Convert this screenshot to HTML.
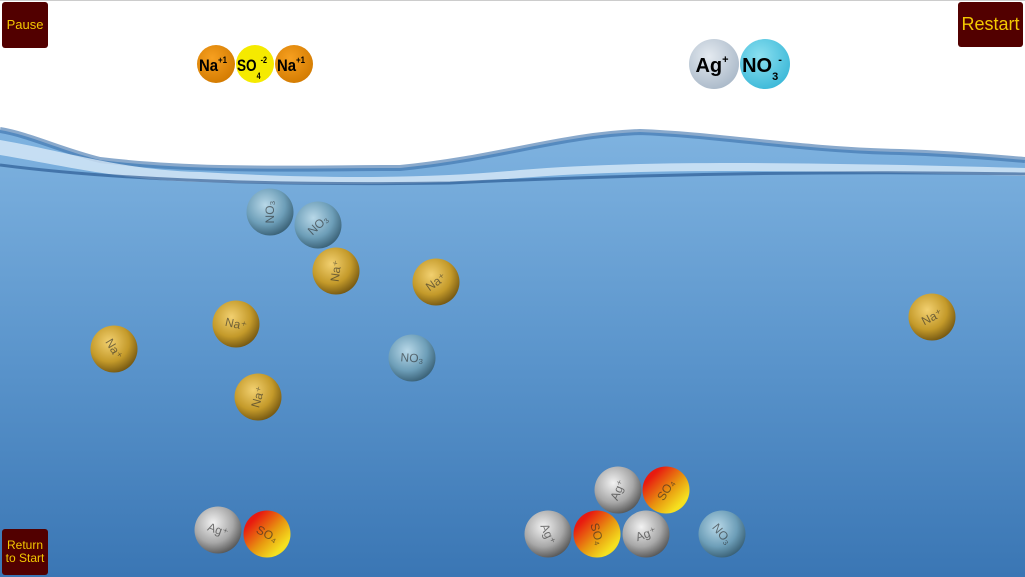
<!DOCTYPE html>
<html><head><meta charset="utf-8"><style>
html,body{margin:0;padding:0;width:1025px;height:577px;overflow:hidden;background:#fff;font-family:"Liberation Sans",sans-serif}
.btn{position:absolute;background:#520000;color:#f3c800;border-radius:3px;display:flex;align-items:center;justify-content:center;text-align:center;line-height:1.05}
</style></head><body>
<svg width="1025" height="577" style="position:absolute;left:0;top:0">
<defs>
<linearGradient id="water" x1="0" y1="0" x2="0" y2="1"><stop offset="0" stop-color="#7fb3e0"/><stop offset="0.5" stop-color="#5b95cc"/><stop offset="1" stop-color="#3a76b4"/></linearGradient>
<radialGradient id="gold" cx="0.4" cy="0.35" r="0.7"><stop offset="0" stop-color="#f2d070"/><stop offset="0.6" stop-color="#c49a2a"/><stop offset="1" stop-color="#6e5210"/></radialGradient>
<radialGradient id="blue" cx="0.4" cy="0.35" r="0.7"><stop offset="0" stop-color="#b8d8e8"/><stop offset="0.6" stop-color="#6d9eb8"/><stop offset="1" stop-color="#355b70"/></radialGradient>
<radialGradient id="silver" cx="0.4" cy="0.35" r="0.7"><stop offset="0" stop-color="#f2f2f2"/><stop offset="0.6" stop-color="#a8a8a8"/><stop offset="1" stop-color="#505050"/></radialGradient>
<linearGradient id="redyel" x1="0" y1="0" x2="1" y2="1"><stop offset="0.2" stop-color="#e81a10"/><stop offset="0.55" stop-color="#e89a10"/><stop offset="0.8" stop-color="#f5e020"/></linearGradient>
<radialGradient id="orange" cx="0.4" cy="0.35" r="0.7"><stop offset="0" stop-color="#f7a020"/><stop offset="1" stop-color="#d27a00"/></radialGradient>
<radialGradient id="ag" cx="0.4" cy="0.35" r="0.7"><stop offset="0" stop-color="#e4eaf0"/><stop offset="1" stop-color="#a9b8c8"/></radialGradient>
<radialGradient id="no3" cx="0.4" cy="0.35" r="0.7"><stop offset="0" stop-color="#8ce0f0"/><stop offset="1" stop-color="#3bb8d8"/></radialGradient>
</defs>
<line x1="0" y1="0.5" x2="1025" y2="0.5" stroke="#ccc"/>
<path d="M0,130 C30,135 60,150 100,160 C200,172 300,168 400,168 C500,158 560,135 640,132 C720,135 800,150 900,152 C960,154 1000,158 1025,160 L1025,577 L0,577 Z" fill="url(#water)"/>
<path d="M0,130 C30,135 60,150 100,160 C200,172 300,168 400,168 C500,158 560,135 640,132 C720,135 800,150 900,152 C960,154 1000,158 1025,160" fill="none" stroke="#3a70aa" stroke-width="6" opacity="0.6"/>
<path d="M0,140 C60,150 120,170 200,172 C300,178 420,180 520,170 C640,160 800,162 1025,168 L1025,176 C800,170 640,168 520,178 C420,186 300,185 200,182 C120,180 60,165 0,155 Z" fill="#dfeefa" opacity="0.75"/>
<path d="M0,165 C100,178 250,186 450,183 C600,176 800,170 1025,174" fill="none" stroke="#1f4f88" stroke-width="3" opacity="0.6"/>
<g id="balls"></g>
<g font-weight="bold" font-family="Liberation Sans" text-anchor="middle">
<circle cx="216" cy="64" r="19" fill="url(#orange)"/><text x="213" y="71" font-size="17" textLength="28" lengthAdjust="spacingAndGlyphs">Na<tspan font-size="9" dy="-8">+1</tspan></text>
<circle cx="255" cy="64" r="19" fill="#f5ea00"/><text x="252" y="71" font-size="17" textLength="30" lengthAdjust="spacingAndGlyphs">SO<tspan font-size="9" dy="8">4</tspan><tspan font-size="9" dy="-16">-2</tspan></text>
<circle cx="294" cy="64" r="19" fill="url(#orange)"/><text x="291" y="71" font-size="17" textLength="28" lengthAdjust="spacingAndGlyphs">Na<tspan font-size="9" dy="-8">+1</tspan></text>
</g>
<g font-weight="bold" font-family="Liberation Sans" text-anchor="middle">
<circle cx="714" cy="64" r="25" fill="url(#ag)"/><text x="712" y="72" font-size="20">Ag<tspan font-size="11" dy="-9">+</tspan></text>
<circle cx="765" cy="64" r="25" fill="url(#no3)"/><text x="762" y="72" font-size="20">NO<tspan font-size="11" dy="8">3</tspan><tspan font-size="11" dy="-17">-</tspan></text>
</g>
</svg>
<div class="btn" style="left:2px;top:2px;width:46px;height:46px;font-size:13px">Pause</div>
<div class="btn" style="left:958px;top:2px;width:65px;height:45px;font-size:18px">Restart</div>
<div class="btn" style="left:2px;top:529px;width:46px;height:46px;font-size:12px">Return to Start</div>
<script>
const ionTypes=["no3","no3","no3","no3","na","na","na","na","na","na","ag","ag","ag","ag","so4","so4","so4"];
const ionX=[270,318,412,722,336,436,236,114,258,932,218,548,618,646,267,597,666];
const ionY=[212,225,358,534,271,282,324,349,397,317,530,534,490,534,534,534,490];
const fills={no3:"url(#blue)",na:"url(#gold)",ag:"url(#silver)",so4:"url(#redyel)"};
const labels={no3:"NO₃",na:"Na⁺",ag:"Ag⁺",so4:"SO₄"};
const g=document.getElementById('balls');
const ns="http://www.w3.org/2000/svg";
ionTypes.forEach((t,i)=>{
  const grp=document.createElementNS(ns,'g');
  
  
  const c=document.createElementNS(ns,'circle');
  c.setAttribute('cx',ionX[i]);c.setAttribute('cy',ionY[i]);c.setAttribute('r',23.5);
  c.setAttribute('fill',fills[t]);
  grp.appendChild(c);
  const tx=document.createElementNS(ns,'text');
  tx.setAttribute('x',ionX[i]);tx.setAttribute('y',ionY[i]+4);
  tx.setAttribute('text-anchor','middle');tx.setAttribute('font-size','12');
  tx.setAttribute('fill','rgba(40,40,40,0.6)');
  tx.setAttribute('transform','rotate('+(i*47%180-90)+' '+ionX[i]+' '+ionY[i]+')');
  tx.textContent=labels[t];
  grp.appendChild(tx);
  g.appendChild(grp);
});
</script>
</body></html>
